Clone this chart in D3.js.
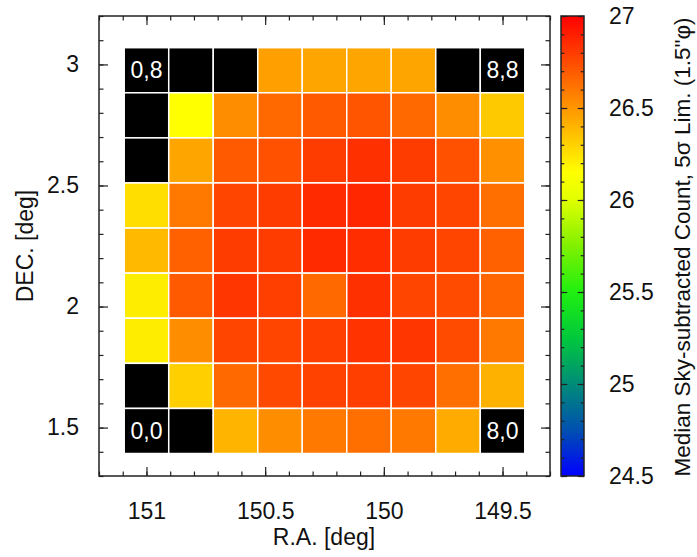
<!DOCTYPE html>
<html>
<head>
<meta charset="utf-8">
<script src="https://cdn.jsdelivr.net/npm/d3@7"></script>
<style>
  body { margin: 0; background: #fff; }
  svg text { font-family: 'Liberation Sans', Arial, Helvetica, sans-serif; fill: #111; }
  .lbl { font-size: 23px; }
</style>
</head>
<body>
<div id="chart"></div>
<script>
// cell grid, 9 x 9, rows listed top (j = 8) to bottom (j = 0); null = no data (black)
let rowIdx = [8, 7, 6, 5, 4, 3, 2, 1, 0];
let colIdx = [0, 1, 2, 3, 4, 5, 6, 7, 8];
let cellValues = [
  [null, null, null, 26.47, 26.45, 26.45, 26.45, null, null],
  [null, 26.15, 26.53, 26.65, 26.70, 26.72, 26.65, 26.53, 26.33],
  [null, 26.45, 26.70, 26.73, 26.80, 26.84, 26.80, 26.73, 26.52],
  [26.26, 26.60, 26.77, 26.80, 26.86, 26.87, 26.80, 26.77, 26.63],
  [26.38, 26.68, 26.80, 26.80, 26.86, 26.85, 26.80, 26.77, 26.68],
  [26.21, 26.70, 26.82, 26.79, 26.65, 26.84, 26.77, 26.75, 26.66],
  [26.21, 26.53, 26.77, 26.77, 26.79, 26.83, 26.82, 26.75, 26.60],
  [null, 26.31, 26.65, 26.76, 26.78, 26.79, 26.77, 26.63, 26.41],
  [null, null, 26.40, 26.53, 26.60, 26.63, 26.60, 26.43, null]
];
let cornerLabels = [[0, 8, "0,8"], [8, 8, "8,8"], [0, 0, "0,0"], [8, 0, "8,0"]];

// cell centres in sky coordinates
let ra0 = 151.0, raStep = 0.1875;
let dec0 = 1.486, decStep = 0.18625;

let xTicks = [151, 150.5, 150, 149.5];
let yTicks = [1.5, 2, 2.5, 3];
let cbTicks = [24.5, 25, 25.5, 26, 26.5, 27];

// colour table stops
let cStops = [24.5, 24.75, 25, 25.25, 25.5, 25.75, 26.0, 26.15, 26.5, 27];
let cColors = ["#0000ff", "#0050b0", "#008c78", "#00c83c", "#20f010", "#80f000", "#e0ff00", "#ffff00", "#ff9600", "#ff0000"];

let W = 697, H = 557;
let svg = d3.select("#chart").append("svg").attr("width", W).attr("height", H);

let x = d3.scaleLinear().domain([151.2, 149.3]).range([99, 550]);
let y = d3.scaleLinear().domain([1.3, 3.2]).range([476, 16]);
let color = d3.scaleLinear().domain(cStops).range(cColors).clamp(true);

//cells
let cells = [];
rowIdx.forEach((j, r) => colIdx.forEach(i => cells.push({ i: i, j: j, v: cellValues[r][i] })));

svg.append("g").selectAll("rect")
  .data(cells)
  .enter().append("rect")
  .attr("x", d => x(ra0 - d.i * raStep + raStep / 2))
  .attr("y", d => y(dec0 + d.j * decStep + decStep / 2))
  .attr("width", d => x(ra0 - d.i * raStep - raStep / 2) - x(ra0 - d.i * raStep + raStep / 2))
  .attr("height", d => y(dec0 + d.j * decStep - decStep / 2) - y(dec0 + d.j * decStep + decStep / 2))
  .attr("fill", d => d.v == null ? "#000" : color(d.v))
  .attr("stroke", "#fff")
  .attr("stroke-width", 1.5);

svg.append("g").selectAll("text")
  .data(cornerLabels)
  .enter().append("text")
  .attr("class", "lbl")
  .attr("x", d => x(ra0 - d[0] * raStep))
  .attr("y", d => y(dec0 + d[1] * decStep))
  .attr("dy", "0.35em")
  .attr("text-anchor", "middle")
  .style("fill", "#fff")
  .text(d => d[2]);

//frame + inward ticks
function minor(lo, hi) { return d3.range(Math.round(lo * 10), Math.round(hi * 10) + 1).map(v => v / 10); }
let xMinor = minor(149.3, 151.2);
let yMinor = minor(1.3, 3.2);

function tickAxis(axisFn, scale, values, size, pos, labels, pad) {
  let a = axisFn(scale).tickValues(values).tickSize(-size).tickPadding(pad || 0)
    .tickFormat(labels ? d3.format("") : "");
  let g = svg.append("g").attr("transform", pos).call(a);
  g.select(".domain").remove();
  g.selectAll("line").attr("stroke", "#222").attr("stroke-width", 1.2);
  g.selectAll("text").attr("class", "lbl");
  g.attr("font-family", null).attr("font-size", null);
  return g;
}
tickAxis(d3.axisBottom, x, xMinor, 4.5, "translate(0,476)");
tickAxis(d3.axisBottom, x, xTicks, 9, "translate(0,476)", true, 27);
tickAxis(d3.axisTop, x, xMinor, 4.5, "translate(0,16)");
tickAxis(d3.axisTop, x, xTicks, 9, "translate(0,16)");
tickAxis(d3.axisLeft, y, yMinor, 4.5, "translate(99,0)");
tickAxis(d3.axisLeft, y, yTicks, 9, "translate(99,0)", true, 20);
tickAxis(d3.axisRight, y, yMinor, 4.5, "translate(550,0)");
tickAxis(d3.axisRight, y, yTicks, 9, "translate(550,0)");

svg.append("rect")
  .attr("x", 99).attr("y", 16).attr("width", 451).attr("height", 460)
  .attr("fill", "none").attr("stroke", "#222").attr("stroke-width", 1.5);

svg.append("text").attr("class", "lbl")
  .attr("x", 324).attr("y", 545).attr("text-anchor", "middle")
  .text("R.A. [deg]");
svg.append("text").attr("class", "lbl")
  .attr("transform", "translate(33,246) rotate(-90)").attr("text-anchor", "middle")
  .text("DEC. [deg]");

//colorbar
let cb = d3.scaleLinear().domain([24.5, 27]).range([476, 16]);
let grad = svg.append("defs").append("linearGradient")
  .attr("id", "cbgrad").attr("x1", 0).attr("y1", 1).attr("x2", 0).attr("y2", 0);
grad.selectAll("stop")
  .data(cStops)
  .enter().append("stop")
  .attr("offset", d => (d - 24.5) / 2.5)
  .attr("stop-color", d => color(d));

svg.append("rect")
  .attr("x", 561).attr("y", 16).attr("width", 23).attr("height", 460)
  .attr("fill", "url(#cbgrad)");

let cbMinor = minor(24.5, 27);
tickAxis(d3.axisLeft, cb, cbMinor, 3.3, "translate(561,0)");
tickAxis(d3.axisLeft, cb, cbTicks, 6.3, "translate(561,0)");
tickAxis(d3.axisRight, cb, cbMinor, 3.3, "translate(584,0)");
tickAxis(d3.axisRight, cb, cbTicks, 6.3, "translate(584,0)", true, 25);

svg.append("rect")
  .attr("x", 561).attr("y", 16).attr("width", 23).attr("height", 460)
  .attr("fill", "none").attr("stroke", "#222").attr("stroke-width", 1.5);

svg.append("text")
  .attr("transform", "translate(690,247) rotate(-90)").attr("text-anchor", "middle")
  .style("font-size", "22.5px")
  .text("Median Sky-subtracted Count, 5\u03c3 Lim. (1.5\"\u03c6)");
</script>
</body>
</html>
